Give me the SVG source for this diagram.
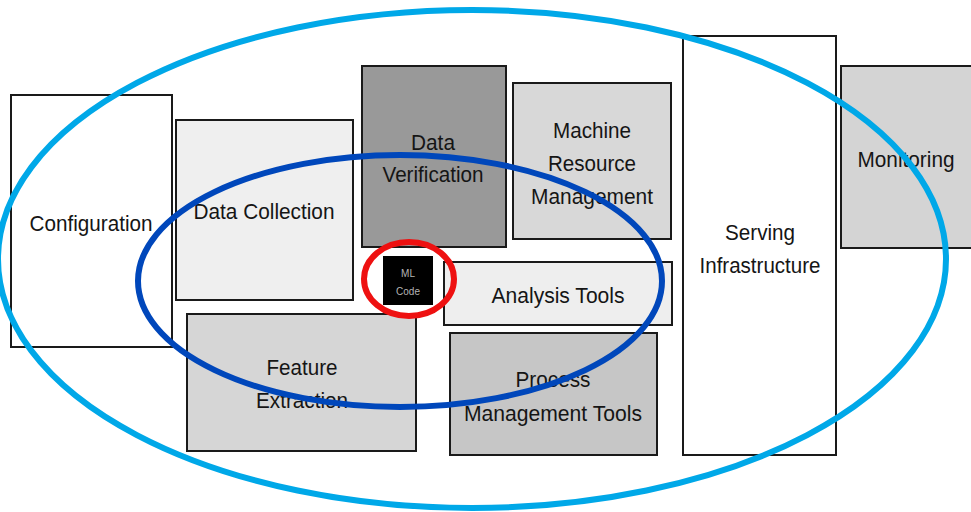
<svg xmlns="http://www.w3.org/2000/svg" width="971" height="512" viewBox="0 0 971 512">
<style>
.box{stroke:#1a1a1a;stroke-width:2}
.t{font-family:"Liberation Sans",Arial,sans-serif;font-size:22px;fill:#151515;text-anchor:middle}
.s{font-family:"Liberation Sans",Arial,sans-serif;font-size:10px;fill:#b4b4b4;text-anchor:middle}
.ring{fill:none;stroke-width:6}
</style>
<rect width="971" height="512" fill="#ffffff"/>
<g id="configuration"><rect class="box" x="11" y="95" width="161" height="252" fill="#ffffff"/><text class="t" x="91" y="231" textLength="123" lengthAdjust="spacingAndGlyphs">Configuration</text></g>
<g id="data-collection"><rect class="box" x="176" y="120" width="177" height="180" fill="#efefef"/><text class="t" x="264" y="219" textLength="141" lengthAdjust="spacingAndGlyphs">Data Collection</text></g>
<g id="data-verification"><rect class="box" x="362" y="66" width="144" height="181" fill="#999999"/><text class="t" x="433" y="150" textLength="44" lengthAdjust="spacingAndGlyphs">Data</text><text class="t" x="433" y="182" textLength="101" lengthAdjust="spacingAndGlyphs">Verification</text></g>
<g id="machine-resource-management"><rect class="box" x="513" y="83" width="158" height="156" fill="#d8d8d8"/><text class="t" x="592" y="138" textLength="78" lengthAdjust="spacingAndGlyphs">Machine</text><text class="t" x="592" y="171" textLength="88" lengthAdjust="spacingAndGlyphs">Resource</text><text class="t" x="592" y="204" textLength="122" lengthAdjust="spacingAndGlyphs">Management</text></g>
<g id="analysis-tools"><rect class="box" x="444" y="262" width="228" height="63" fill="#eeeeee"/><text class="t" x="558" y="303" textLength="133" lengthAdjust="spacingAndGlyphs">Analysis Tools</text></g>
<g id="ml-code"><rect x="383" y="256" width="50" height="49" fill="#000000"/><text class="s" x="408" y="277">ML</text><text class="s" x="408" y="295">Code</text></g>
<g id="feature-extraction"><rect class="box" x="187" y="314" width="229" height="137" fill="#d6d6d6"/><text class="t" x="302" y="375" textLength="71" lengthAdjust="spacingAndGlyphs">Feature</text><text class="t" x="302" y="408" textLength="92" lengthAdjust="spacingAndGlyphs">Extraction</text></g>
<g id="process-management-tools"><rect class="box" x="450" y="333" width="207" height="122" fill="#c6c6c6"/><text class="t" x="553" y="387" textLength="75" lengthAdjust="spacingAndGlyphs">Process</text><text class="t" x="553" y="421" textLength="178" lengthAdjust="spacingAndGlyphs">Management Tools</text></g>
<g id="serving-infrastructure"><rect class="box" x="683" y="36" width="153" height="419" fill="#ffffff"/><text class="t" x="760" y="240" textLength="70" lengthAdjust="spacingAndGlyphs">Serving</text><text class="t" x="760" y="273" textLength="121" lengthAdjust="spacingAndGlyphs">Infrastructure</text></g>
<g id="monitoring"><rect class="box" x="841" y="66" width="140" height="182" fill="#d4d4d4"/><text class="t" x="906" y="167" textLength="97" lengthAdjust="spacingAndGlyphs">Monitoring</text></g>
<g id="connectors">
<ellipse class="ring" cx="472" cy="259" rx="474" ry="249" stroke="#00a8e8"/>
<ellipse class="ring" cx="400" cy="281" rx="262" ry="126" stroke="#0047bb"/>
<ellipse class="ring" cx="409" cy="279" rx="45" ry="37" stroke="#ee1111"/>
</g>
</svg>
